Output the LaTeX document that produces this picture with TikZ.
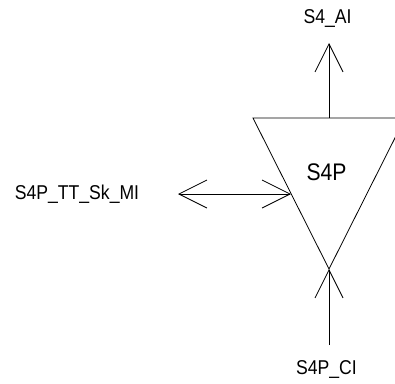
\documentclass[tikz,border=0pt]{standalone}
\usepackage{fontspec}
\setmainfont{Liberation Sans}
\newfontfamily\labfont[FakeStretch=0.88]{Liberation Sans}
\usetikzlibrary{arrows.meta}
\begin{document}
\begin{tikzpicture}[x=1pt,y=-1pt,
  >={Straight Barb[length=28pt,width=28pt,line width=0.8pt]},
  line/.style={line width=0.8pt, black},
  lab/.style={font=\labfont\fontsize{20}{23}\selectfont, inner sep=0pt, anchor=base},
  big/.style={font=\labfont\fontsize{24}{28}\selectfont, inner sep=0pt, anchor=base}]
\useasboundingbox (0,0) rectangle (395,383);
% triangle corners
\coordinate (tl) at (253,118);
\coordinate (tr) at (405,118);
\coordinate (apex) at (329,269);
\coordinate (topmid) at (329,118);
\coordinate (leftpt) at (291,194);
\draw[line] (tl) -- (tr) -- (apex) -- cycle;
\node[big] (main) at (326.5,180) {S4P};
% labels
\node[lab] (ai) at (327.5,23) {S4\_AI};
\node[lab] (mi) at (77,199) {S4P\_TT\_Sk\_MI};
\node[lab] (ci) at (326.5,374) {S4P\_CI};
% free ends
\coordinate (aitip) at (329,43);
\coordinate (mitip) at (178,194);
\coordinate (ciend) at (329,345);
% connectors
\draw[line, ->] (topmid) -- (aitip);
\draw[line, <->] (mitip) -- (leftpt);
\draw[line, ->] (ciend) -- (apex);
\end{tikzpicture}
\end{document}
